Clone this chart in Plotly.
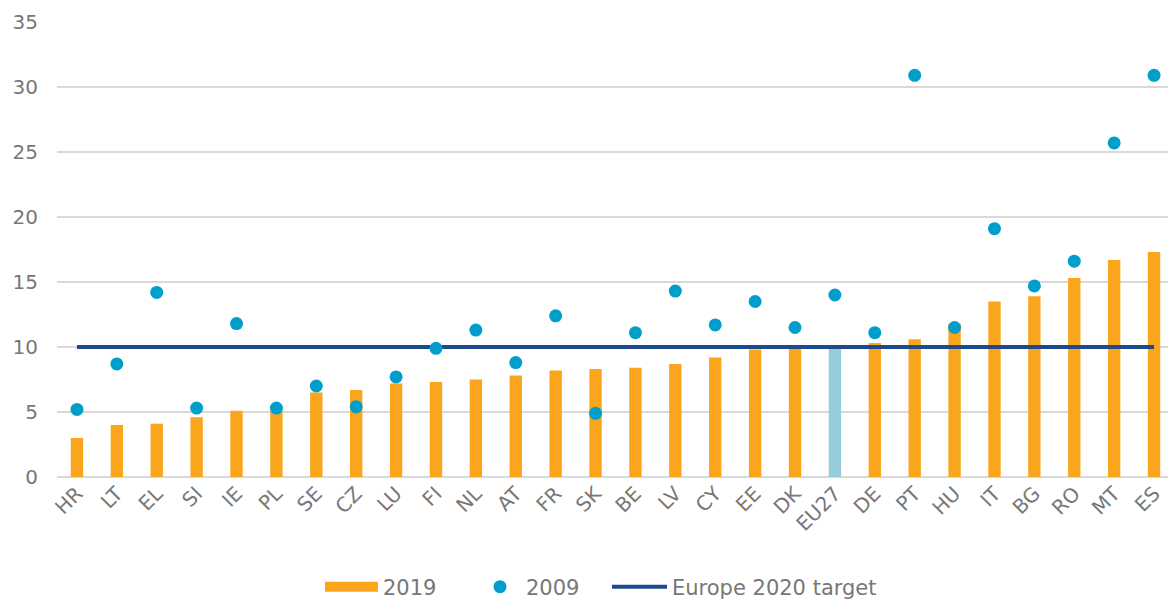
import plotly.graph_objects as go

countries = ["HR", "LT", "EL", "SI", "IE", "PL", "SE", "CZ", "LU", "FI", "NL", "AT", "FR", "SK",
             "BE", "LV", "CY", "EE", "DK", "EU27", "DE", "PT", "HU", "IT", "BG", "RO", "MT", "ES"]
v2019 = [3.0, 4.0, 4.1, 4.6, 5.1, 5.2, 6.5, 6.7, 7.2, 7.3, 7.5, 7.8, 8.2, 8.3,
         8.4, 8.7, 9.2, 9.8, 9.9, 10.0, 10.3, 10.6, 11.8, 13.5, 13.9, 15.3, 16.7, 17.3]
v2009 = [5.2, 8.7, 14.2, 5.3, 11.8, 5.3, 7.0, 5.4, 7.7, 9.9, 11.3, 8.8, 12.4, 4.9,
         11.1, 14.3, 11.7, 13.5, 11.5, 14.0, 11.1, 30.9, 11.5, 19.1, 14.7, 16.6, 25.7, 30.9]
target = [10] * len(countries)
ticks_y = [0, 5, 10, 15, 20, 25, 30, 35]

ORANGE = "#F9A61C"
EUBLUE = "#95CDDD"
DOT = "#009FCB"
LINE = "#1C4A8C"
TEXT = "#777777"
W, H = 1168, 601

bar_colors = [EUBLUE if c == "EU27" else ORANGE for c in countries]

fig = go.Figure()
fig.add_trace(go.Bar(x=countries, y=v2019, name="2019", marker=dict(color=bar_colors, line=dict(width=0)),
                     width=0.31, showlegend=False))
# legend entry for 2019 drawn as a wide rectangle swatch
fig.add_trace(go.Scatter(x=[None], y=[None], name="2019", mode="lines",
                         line=dict(color=ORANGE, width=11), legend="legend"))
fig.add_trace(go.Scatter(x=countries, y=target, name="Europe 2020 target", mode="lines",
                         line=dict(color=LINE, width=4), legend="legend3", cliponaxis=False))
fig.add_trace(go.Scatter(x=countries, y=v2009, name="2009", mode="markers",
                         marker=dict(color=DOT, size=13), legend="legend2", cliponaxis=False))

leg_common = dict(orientation="h", xref="container", yref="container", xanchor="left",
                  y=(H - 587) / H, yanchor="middle", font=dict(size=21, color=TEXT),
                  bgcolor="rgba(0,0,0,0)")

fig.update_layout(
    width=W, height=H,
    margin=dict(l=57, r=0, t=22, b=124, autoexpand=False),
    plot_bgcolor="white", paper_bgcolor="white",
    font=dict(family="DejaVu Sans, Verdana, sans-serif", size=20, color=TEXT),
    showlegend=True,
    legend=dict(x=320 / W, itemwidth=53, **leg_common),
    legend2=dict(x=474 / W, itemwidth=42, **leg_common),
    legend3=dict(x=607 / W, itemwidth=55, **leg_common),
)
fig.update_xaxes(range=[-0.5, 27.35], tickangle=-45, showgrid=False, showline=False,
                 ticks="", tickfont=dict(size=20, color=TEXT), automargin=False)
fig.update_yaxes(range=[0, 35], tickvals=ticks_y, showgrid=True, gridcolor="#D9D9D9", gridwidth=1.5,
                 zeroline=True, zerolinecolor="#D9D9D9", zerolinewidth=1.5, automargin=False,
                 ticks="", tickfont=dict(size=20, color=TEXT), ticklabelstandoff=18)

fig.write_html("out.html", config={"displayModeBar": False},
               post_script="document.body.style.margin='0px';document.body.style.overflow='hidden';")
